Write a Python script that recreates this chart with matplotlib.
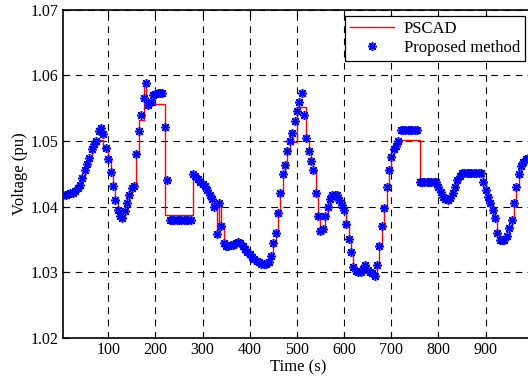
import numpy as np
import matplotlib.pyplot as plt

# sample times (s), one value every 5 s
time_s = np.arange(5, 995, 5)

proposed = [
    1.0418, 1.0418, 1.0419, 1.0420, 1.0421, 1.0423, 1.0428, 1.0433, 1.0443, 1.0455,
    1.0465, 1.0474, 1.0488, 1.0496, 1.0500, 1.0515, 1.0520, 1.0510, 1.0490, 1.0472,
    1.0452, 1.0432, 1.0410, 1.0395, 1.0385, 1.0383, 1.0393, 1.0405, 1.0418, 1.0428,
    1.0432, 1.0480, 1.0515, 1.0540, 1.0565, 1.0588, 1.0555, 1.0560, 1.0570, 1.0572,
    1.0573, 1.0573, 1.0573, 1.0522, 1.0440, 1.0380, 1.0380, 1.0380, 1.0380, 1.0380,
    1.0380, 1.0380, 1.0380, 1.0380, 1.0380, 1.0450, 1.0447, 1.0442, 1.0438, 1.0435,
    1.0432, 1.0425, 1.0418, 1.0412, 1.0400, 1.0358, 1.0405, 1.0370, 1.0345, 1.0340,
    1.0340, 1.0341, 1.0342, 1.0344, 1.0346, 1.0345, 1.0340, 1.0335, 1.0330, 1.0327,
    1.0323, 1.0320, 1.0317, 1.0315, 1.0313, 1.0313, 1.0313, 1.0315, 1.0325, 1.0345,
    1.0360, 1.0390, 1.0420, 1.0450, 1.0463, 1.0485, 1.0500, 1.0512, 1.0530, 1.0545,
    1.0560, 1.0573, 1.0540, 1.0505, 1.0485, 1.0470, 1.0455, 1.0420, 1.0385, 1.0362,
    1.0365, 1.0385, 1.0400, 1.0412, 1.0417, 1.0418, 1.0417, 1.0410, 1.0403, 1.0395,
    1.0374, 1.0350, 1.0330, 1.0308, 1.0302, 1.0300, 1.0300, 1.0305, 1.0310, 1.0303,
    1.0300, 1.0298, 1.0294, 1.0310, 1.0340, 1.0370, 1.0398, 1.0430, 1.0455, 1.0475,
    1.0488, 1.0492, 1.0500, 1.0517, 1.0517, 1.0517, 1.0517, 1.0517, 1.0517, 1.0517,
    1.0517, 1.0438, 1.0438, 1.0438, 1.0438, 1.0438, 1.0438, 1.0438, 1.0438, 1.0430,
    1.0422, 1.0415, 1.0411, 1.0410, 1.0413, 1.0420, 1.0430, 1.0440, 1.0447, 1.0451,
    1.0451, 1.0451, 1.0451, 1.0451, 1.0451, 1.0451, 1.0451, 1.0451, 1.0438, 1.0425,
    1.0415, 1.0405, 1.0395, 1.0383, 1.0360, 1.0349, 1.0349, 1.0349, 1.0355, 1.0367,
    1.0380, 1.0405, 1.0430, 1.0450, 1.0462, 1.0468, 1.0472, 1.0474,
]

pscad = [
    1.0418, 1.0418, 1.0419, 1.0420, 1.0421, 1.0423, 1.0428, 1.0433, 1.0443, 1.0455,
    1.0465, 1.0474, 1.0488, 1.0496, 1.0500, 1.0502, 1.0502, 1.0488, 1.0488, 1.0472,
    1.0452, 1.0432, 1.0410, 1.0395, 1.0385, 1.0383, 1.0393, 1.0405, 1.0418, 1.0428,
    1.0432, 1.0480, 1.0532, 1.0532, 1.0590, 1.0557, 1.0557, 1.0557, 1.0557, 1.0557,
    1.0557, 1.0557, 1.0557, 1.0387, 1.0387, 1.0387, 1.0387, 1.0387, 1.0387, 1.0387,
    1.0387, 1.0387, 1.0387, 1.0387, 1.0387, 1.0450, 1.0447, 1.0442, 1.0438, 1.0435,
    1.0432, 1.0425, 1.0418, 1.0412, 1.0400, 1.0360, 1.0405, 1.0370, 1.0345, 1.0340,
    1.0340, 1.0341, 1.0342, 1.0344, 1.0346, 1.0345, 1.0340, 1.0335, 1.0330, 1.0327,
    1.0323, 1.0320, 1.0317, 1.0315, 1.0313, 1.0313, 1.0313, 1.0315, 1.0325, 1.0345,
    1.0360, 1.0390, 1.0420, 1.0450, 1.0463, 1.0485, 1.0499, 1.0499, 1.0499, 1.0552,
    1.0552, 1.0552, 1.0552, 1.0500, 1.0488, 1.0470, 1.0455, 1.0420, 1.0385, 1.0362,
    1.0365, 1.0385, 1.0400, 1.0412, 1.0417, 1.0418, 1.0417, 1.0410, 1.0403, 1.0395,
    1.0374, 1.0350, 1.0330, 1.0308, 1.0302, 1.0300, 1.0300, 1.0305, 1.0310, 1.0303,
    1.0300, 1.0298, 1.0294, 1.0310, 1.0340, 1.0370, 1.0398, 1.0430, 1.0455, 1.0475,
    1.0497, 1.0497, 1.0497, 1.0502, 1.0502, 1.0502, 1.0502, 1.0502, 1.0502, 1.0502,
    1.0502, 1.0442, 1.0442, 1.0442, 1.0442, 1.0442, 1.0442, 1.0442, 1.0442, 1.0430,
    1.0422, 1.0415, 1.0411, 1.0410, 1.0413, 1.0420, 1.0430, 1.0440, 1.0447, 1.0451,
    1.0451, 1.0451, 1.0451, 1.0451, 1.0451, 1.0451, 1.0451, 1.0451, 1.0438, 1.0425,
    1.0415, 1.0405, 1.0395, 1.0383, 1.0360, 1.0349, 1.0349, 1.0349, 1.0355, 1.0367,
    1.0380, 1.0405, 1.0430, 1.0450, 1.0462, 1.0468, 1.0472, 1.0474,
]

x_ticks = [100, 200, 300, 400, 500, 600, 700, 800, 900]
y_ticks = [1.02, 1.03, 1.04, 1.05, 1.06, 1.07]

plt.rcParams["font.family"] = ["Liberation Serif", "DejaVu Serif"]
plt.rcParams["font.size"] = 12

fig = plt.figure(figsize=(5.28, 3.81), dpi=100)
# axes runs a little past the right edge, as in the cropped original
ax = fig.add_axes([0.120, 0.114, 0.889, 0.860])

ax.plot(time_s, pscad, color=(1, 0, 0), lw=1.0, drawstyle="steps-post",
        label="PSCAD", zorder=2)
# asterisk marker (8 spokes), like the MATLAB '*'
ax.plot(time_s, proposed, ls="none", marker=(8, 2, 0), ms=6.5, mew=1.1,
        color=(0, 0, 1), label="Proposed method", zorder=3)

ax.set_xlim(5, 1000)
ax.set_ylim(1.02, 1.07)
ax.set_xticks(x_ticks)
ax.set_yticks(y_ticks)
ax.set_yticklabels([f"{v:.2f}" for v in y_ticks])
ax.tick_params(direction="in", top=True, right=True, labelsize=11.5, length=4)
ax.grid(True, color="black", ls=(0, (6, 5)), lw=0.8)
for s in ax.spines.values():
    s.set_linewidth(1.2)

ax.set_xlabel("Time (s)", labelpad=1)
ax.set_ylabel("Voltage (pu)", labelpad=2)

leg = ax.legend(loc="upper right", bbox_to_anchor=(525 / 528, 1 - 16 / 381),
                bbox_transform=fig.transFigure, borderaxespad=0,
                fancybox=False, framealpha=1, edgecolor="black",
                handlelength=2.6, fontsize=12, borderpad=0.3,
                labelspacing=0.2, handletextpad=0.6)
leg.get_frame().set_linewidth(0.9)

fig.savefig("out.png", dpi=100)
